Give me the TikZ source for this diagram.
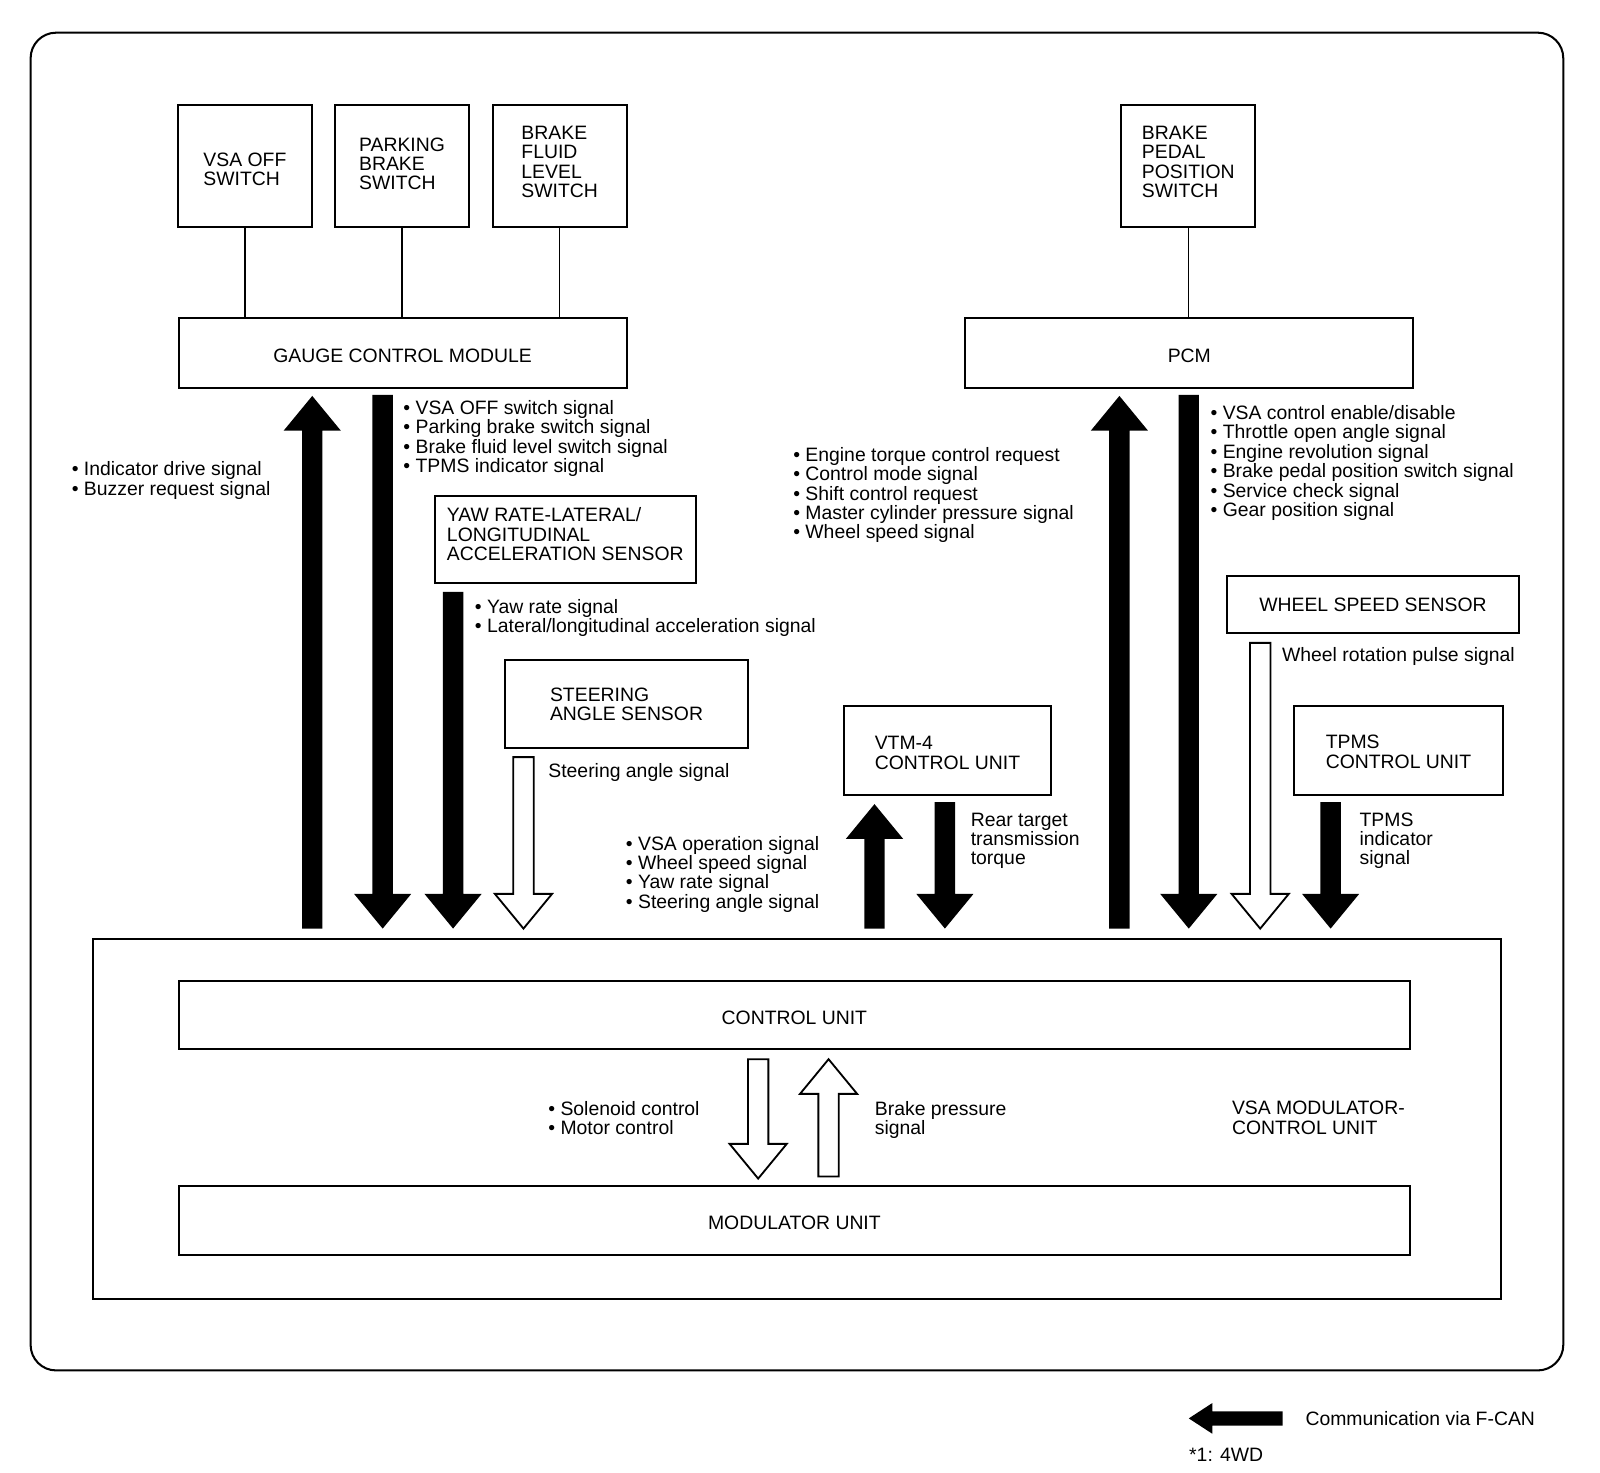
\documentclass[tikz,border=0pt]{standalone}
\usepackage{fontspec}
\setmainfont{Liberation Sans}
\newcommand\dnarr[4]{\path[#4] ({#1-10},#2) -- ({#1+10},#2) -- ({#1+10},{#3-34}) -- ({#1+28},{#3-34}) -- (#1,#3) -- ({#1-28},{#3-34}) -- ({#1-10},{#3-34}) -- cycle;}
\newcommand\uparr[4]{\path[#4] ({#1-10},#2) -- ({#1+10},#2) -- ({#1+10},{#3+34}) -- ({#1+28},{#3+34}) -- (#1,#3) -- ({#1-28},{#3+34}) -- ({#1-10},{#3+34}) -- cycle;}
% vertical fine-tuning of text inside boxes
\newcommand\txdown[1]{\rule{0pt}{\dimexpr 6.8pt+#1\relax}}
\newcommand\txup[1]{\rule[-#1]{0pt}{#1}}
\begin{document}
\begin{tikzpicture}[x=0.5pt,y=-0.5pt,
  font=\fontsize{9.5}{9.5}\selectfont,
  box/.style={draw, line width=1pt, inner sep=0pt, align=left},
  lbl/.style={inner sep=0pt, align=left, anchor=north west},
  link/.style={line width=0.75pt},
  solidarr/.style={fill=black},
  hollow/.style={draw, line width=0.9pt, fill=white, line join=miter}]
\useasboundingbox (0,0) rectangle (1568,1442.6);
% outer frame
\draw[line width=1pt, rounded corners=12.5pt] (30,32) rectangle (1532,1343);
% switches
\node[box, minimum width=66pt, minimum height=59.5pt] (vsaoff) at (240,162.5) {\txdown{3pt}VSA OFF\\SWITCH};
\node[box, minimum width=66pt, minimum height=59.5pt] (park) at (394,162.5) {PARKING\\BRAKE\\SWITCH\txup{2pt}};
\node[box, minimum width=65.5pt, minimum height=59.5pt] (fluid) at (548.5,162.5) {BRAKE\\FLUID\\LEVEL\\SWITCH\txup{4pt}};
\node[box, minimum width=65.5pt, minimum height=59.5pt] (pedal) at (1164.5,162.5) {BRAKE\\PEDAL\\POSITION\\SWITCH\txup{4pt}};
% modules
\node[box, align=center, minimum width=219.5pt, minimum height=34pt] (gcm) at (394.5,346) {\txdown{3pt}GAUGE CONTROL MODULE};
\node[box, align=center, minimum width=219.5pt, minimum height=34pt] (pcm) at (1165.5,346) {\txdown{3pt}PCM};
\node[box, minimum width=128pt, minimum height=42.5pt] (yaw) at (554,528.5) {YAW RATE-LATERAL/\\LONGITUDINAL\\ACCELERATION SENSOR\txup{5pt}};
\node[box, minimum width=119pt, minimum height=43pt] (steer) at (614,690) {STEERING\\ANGLE SENSOR};
\node[box, minimum width=101.5pt, minimum height=43.5pt] (vtm) at (928.5,735.5) {\txdown{2pt}VTM-4\\CONTROL UNIT};
\node[box, align=center, minimum width=143.5pt, minimum height=28pt] (wss) at (1345.5,592) {\txdown{1pt}WHEEL SPEED SENSOR};
\node[box, minimum width=102.5pt, minimum height=43.5pt] (tpms) at (1370.5,735.5) {\txdown{1pt}TPMS\\CONTROL UNIT};
% VSA modulator-control unit
\node[box, minimum width=690pt, minimum height=176.5pt] (vsamod) at (781,1096.5) {};
\node[box, align=center, minimum width=603.5pt, minimum height=33.5pt] (cu) at (778.5,994.5) {\txdown{3pt}CONTROL UNIT};
\node[box, align=center, minimum width=603.5pt, minimum height=34pt] (mu) at (778.5,1196) {\txdown{2pt}MODULATOR UNIT};
\node[lbl] (vsamodlbl) at (1207,1079) {VSA MODULATOR-\\CONTROL UNIT};
% switch links
\draw[link] (vsaoff.south) -- (vsaoff.south |- gcm.north);
\draw[link] (park.south) -- (park.south |- gcm.north);
\draw[link] (fluid.south) -- (fluid.south |- gcm.north);
\draw[link] (pedal.south) -- (pedal.south |- pcm.north);
% signal arrows
\uparr{306}{910}{388}{solidarr}
\dnarr{375}{387}{910}{solidarr}
\dnarr{444}{580}{910}{solidarr}
\dnarr{513}{742}{910}{hollow}
\uparr{857}{910}{788}{solidarr}
\dnarr{926}{786}{910}{solidarr}
\uparr{1097}{910}{388}{solidarr}
\dnarr{1165}{387}{910}{solidarr}
\dnarr{1235}{630}{910}{hollow}
\dnarr{1304}{786}{910}{solidarr}
\dnarr{743}{1038}{1155}{hollow}
\uparr{812}{1153}{1038}{hollow}
% signal labels
\node[lbl] (t1) at (70,452) {• Indicator drive signal\\• Buzzer request signal};
\node[lbl] (t2) at (395,392) {• VSA OFF switch signal\\• Parking brake switch signal\\• Brake fluid level switch signal\\• TPMS indicator signal};
\node[lbl] (t3) at (777,438) {• Engine torque control request\\• Control mode signal\\• Shift control request\\• Master cylinder pressure signal\\• Wheel speed signal};
\node[lbl] (t4) at (1186,397) {• VSA control enable/disable\\• Throttle open angle signal\\• Engine revolution signal\\• Brake pedal position switch signal\\• Service check signal\\• Gear position signal};
\node[lbl] (t5) at (465,587) {• Yaw rate signal\\• Lateral/longitudinal acceleration signal};
\node[lbl] (t6) at (537,748) {Steering angle signal};
\node[lbl] (t7) at (613,819) {• VSA operation signal\\• Wheel speed signal\\• Yaw rate signal\\• Steering angle signal};
\node[lbl] (t8) at (951,796) {Rear target\\transmission\\torque};
\node[lbl] (t9) at (1256,634) {Wheel rotation pulse signal};
\node[lbl] (t10) at (1332,796) {TPMS\\indicator\\signal};
\node[lbl] (t11) at (537,1079) {• Solenoid control\\• Motor control};
\node[lbl] (t12) at (857,1079) {Brake pressure\\signal};
% legend
\fill (1165,1390) -- (1188,1375) -- (1188,1383) -- (1257,1383) -- (1257,1397) -- (1188,1397) -- (1188,1405) -- cycle;
\node[lbl] (leg) at (1279,1383) {Communication via F-CAN};
\node[lbl] (note) at (1165,1419) {*1: 4WD};
\end{tikzpicture}
\end{document}
